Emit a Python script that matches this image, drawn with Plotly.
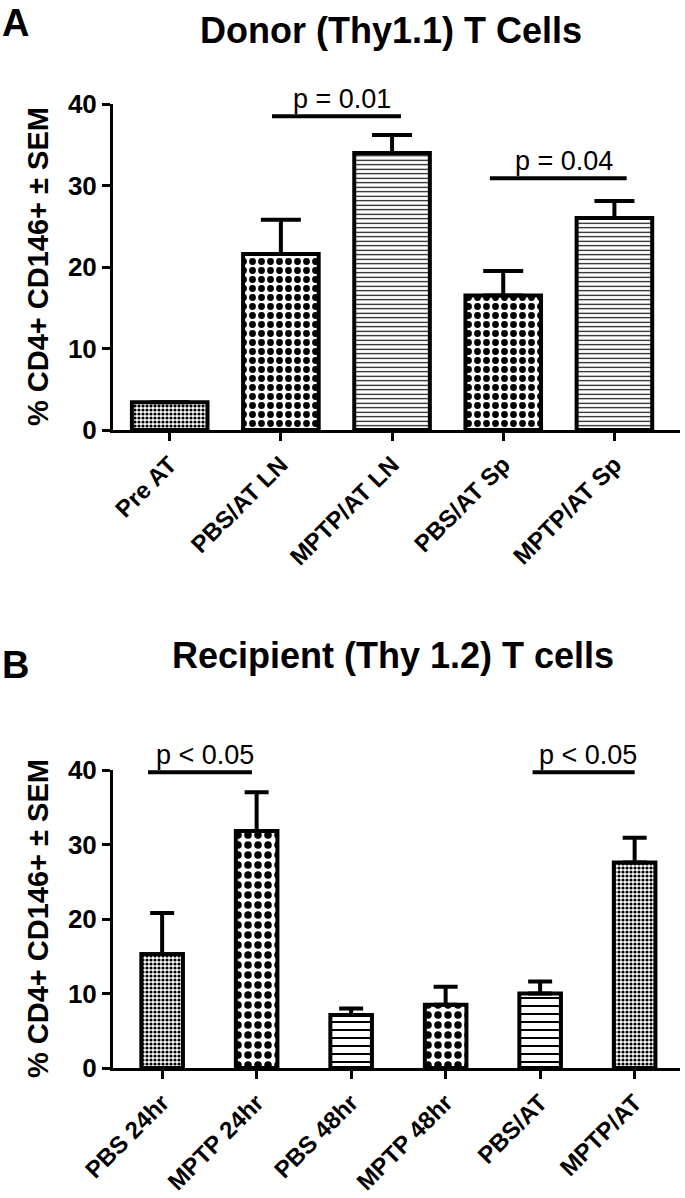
import plotly.graph_objects as go

# ---------------- data ----------------
cats_A = ["Pre AT", "PBS/AT LN", "MPTP/AT LN", "PBS/AT Sp", "MPTP/AT Sp"]
mean_A = [3.4, 21.6, 34.0, 16.5, 26.0]
sem_A = [None, 4.2, 2.2, 3.0, 2.1]

cats_B = ["PBS 24hr", "MPTP 24hr", "PBS 48hr", "MPTP 48hr", "PBS/AT", "MPTP/AT"]
mean_B = [15.3, 31.8, 7.1, 8.5, 10.0, 27.6]
sem_B = [5.5, 5.2, 0.9, 2.4, 1.6, 3.3]

y_ticks = [0, 10, 20, 30, 40]

# significance brackets (category-index start/end, level, label)
sig_A_x0 = [0.92, 2.88]
sig_A_x1 = [2.08, 4.11]
sig_A_y = [38.5, 30.9]
sig_A_text = ["p = 0.01", "p = 0.04"]

sig_B_x0 = [-0.15, 3.92]
sig_B_x1 = [0.95, 5.0]
sig_B_y = [39.7, 39.7]
sig_B_text = ["p < 0.05", "p < 0.05"]

title_A = "Donor (Thy1.1) T Cells"
title_B = "Recipient (Thy 1.2) T cells"
y_title = "% CD4+ CD146+ ± SEM"

# ---------------- styles ----------------
FONT = "Arial, 'Liberation Sans', sans-serif"
STYLE = {
    "fine": dict(shape=".", size=4, solidity=0.5),
    "checker": dict(shape=".", size=9, solidity=0.45),
    "lines": dict(shape="-", size=4.5, solidity=0.25),
}
PAT_A = ["fine", "checker", "lines", "checker", "lines"]
PAT_B = ["fine", "checker", "lines", "checker", "lines", "fine"]
SIZE_OVERRIDE_B = {"lines": 8, "checker": 10}


def pattern(names, overrides=None):
    overrides = overrides or {}
    shapes, sizes, sols = [], [], []
    for n in names:
        s = STYLE[n]
        shapes.append(s["shape"])
        sizes.append(overrides.get(n, s["size"]))
        sols.append(s["solidity"])
    return dict(shape=shapes, size=sizes, solidity=sols, fgcolor="black",
                bgcolor="white", fillmode="replace")


W, H = 685, 1198
fig = go.Figure()

fig.add_trace(go.Bar(
    x=cats_A, y=mean_A, xaxis="x", yaxis="y", width=0.68,
    marker=dict(color="white", line=dict(color="black", width=4),
                pattern=pattern(PAT_A)),
    error_y=dict(type="data", array=sem_A, arrayminus=[0] * len(sem_A),
                 symmetric=False, color="black", thickness=4, width=20),
    cliponaxis=False, showlegend=False,
))

fig.add_trace(go.Bar(
    x=cats_B, y=mean_B, xaxis="x2", yaxis="y2", width=0.44,
    marker=dict(color="white", line=dict(color="black", width=4),
                pattern=pattern(PAT_B, SIZE_OVERRIDE_B)),
    error_y=dict(type="data", array=sem_B, arrayminus=[0] * len(sem_B),
                 symmetric=False, color="black", thickness=4, width=12),
    cliponaxis=False, showlegend=False,
))

x_dom = [113 / W, 680 / W]
yA_dom = [(H - 430) / H, (H - 104) / H]
yB_dom = [(H - 1068) / H, (H - 770) / H]

axis_common = dict(showgrid=False, zeroline=False, showline=True, linecolor="black",
                   linewidth=3, ticks="outside", ticklen=8, tickwidth=3,
                   tickcolor="black", automargin=False)

fig.update_layout(
    width=W, height=H, margin=dict(l=0, r=0, t=0, b=0, autoexpand=False),
    paper_bgcolor="white", plot_bgcolor="white",
    font=dict(family=FONT, color="black"),
    xaxis=dict(domain=x_dom, anchor="y", range=[-0.51, 4.59], tickangle=-45,
               tickfont=dict(size=24, family=FONT, weight="bold"), **axis_common),
    yaxis=dict(domain=yA_dom, anchor="x", range=[0, 40], tickvals=y_ticks,
               tickfont=dict(size=26, family=FONT, weight="bold"), **axis_common),
    xaxis2=dict(domain=x_dom, anchor="y2", range=[-0.52, 5.48], tickangle=-45,
                tickfont=dict(size=24, family=FONT, weight="bold"), **axis_common),
    yaxis2=dict(domain=yB_dom, anchor="x2", range=[0, 40], tickvals=y_ticks,
                tickfont=dict(size=26, family=FONT, weight="bold"), **axis_common),
)

shapes = []
annots = []
for xr, yr, x0s, x1s, ys, texts in [("x", "y", sig_A_x0, sig_A_x1, sig_A_y, sig_A_text),
                                     ("x2", "y2", sig_B_x0, sig_B_x1, sig_B_y, sig_B_text)]:
    for x0, x1, yv, t in zip(x0s, x1s, ys, texts):
        shapes.append(dict(type="line", xref=xr, yref=yr, x0=x0, x1=x1, y0=yv, y1=yv,
                           line=dict(color="black", width=4)))
        annots.append(dict(xref=xr, yref=yr, x=(x0 + x1) / 2 + 0.05, y=yv, yshift=0,
                           text=t, showarrow=False, yanchor="bottom",
                           font=dict(size=27, family=FONT, color="black")))

annots += [
    dict(xref="paper", yref="paper", x=391 / W, y=(H - 30) / H, text=title_A,
         showarrow=False, xanchor="center", yanchor="middle",
         font=dict(size=36, family=FONT, weight="bold")),
    dict(xref="paper", yref="paper", x=393 / W, y=(H - 655) / H, text=title_B,
         showarrow=False, xanchor="center", yanchor="middle",
         font=dict(size=36, family=FONT, weight="bold")),
    dict(xref="paper", yref="paper", x=0.0, y=(H - 23) / H, text="A",
         showarrow=False, xanchor="left", yanchor="middle",
         font=dict(size=38, family=FONT, weight="bold")),
    dict(xref="paper", yref="paper", x=0.0, y=(H - 665) / H, text="B",
         showarrow=False, xanchor="left", yanchor="middle",
         font=dict(size=38, family=FONT, weight="bold")),
    dict(xref="paper", yref="y domain", x=38 / W, y=0.5, text=y_title, textangle=-90,
         showarrow=False, xanchor="center", yanchor="middle",
         font=dict(size=29, family=FONT, weight="bold")),
    dict(xref="paper", yref="y2 domain", x=38 / W, y=0.5, text=y_title, textangle=-90,
         showarrow=False, xanchor="center", yanchor="middle",
         font=dict(size=29, family=FONT, weight="bold")),
]
fig.update_layout(shapes=shapes, annotations=annots)

fig.write_html("out.html", config={"displayModeBar": False},
               post_script="document.body.style.margin='0';")
